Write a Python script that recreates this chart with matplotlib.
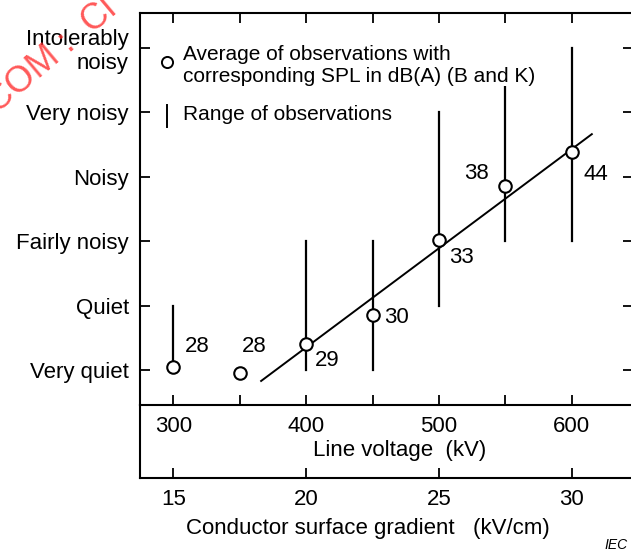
import matplotlib
matplotlib.use('Agg')
import matplotlib.pyplot as plt

plt.rcParams['font.family'] = ['Liberation Sans', 'DejaVu Sans']

voltage = [300, 350, 400, 450, 500, 550, 600]
level = [1.05, 0.95, 1.40, 1.85, 3.02, 3.86, 4.39]
spl = ['28', '28', '29', '30', '33', '38', '44']
lab_x = [318, 361, 416, 468, 517, 528, 618]
lab_y = [1.37, 1.37, 1.14, 1.81, 2.74, 4.05, 4.04]
range_lo = [1.05, None, 1.0, 1.0, 2.0, 3.0, 3.0]
range_hi = [2.0, None, 3.0, 3.0, 5.0, 6.0, 6.0]
fit_x = [366, 615]
fit_y = [0.83, 4.66]

levels = [1, 2, 3, 4, 5, 6]
level_names = ['Very quiet', 'Quiet', 'Fairly noisy', 'Noisy', 'Very noisy', 'Intolerably\nnoisy']
volt_ticks = [300, 400, 500, 600]
volt_minor = [350, 450, 550]
grad_ticks = [15, 20, 25, 30]

fs = 16
W, H = 631, 552
fig = plt.figure(figsize=(6.31, 5.52), dpi=100)
ax2 = fig.add_axes([140/W, 1 - 478/H, 493/W, 73/H])
ax = fig.add_axes([140/W, 1 - 405/H, 493/W, 392/H])
ax2.patch.set_visible(False)
ax.patch.set_visible(False)

x0, x1 = 274.8, 646.0
ax.set_xlim(x0, x1)
ax.set_ylim(0.457, 6.54)
ax2.set_xlim(x0 / 20, x1 / 20)
ax2.set_ylim(0, 1)

for a in (ax, ax2):
    for s in a.spines.values():
        s.set_linewidth(1.5)

# range bars
for v, lo, hi in zip(voltage, range_lo, range_hi):
    if lo is None:
        continue
    ax.plot([v, v], [lo, hi], color='black', lw=1.6, zorder=2)

ax.plot(fit_x, fit_y, color='black', lw=1.4, zorder=2)
ax.plot(voltage, level, 'o', ms=9, mfc='white', mec='black', mew=1.5, zorder=4)

for x, y, t in zip(lab_x, lab_y, spl):
    ax.text(x, y, t, fontsize=fs, ha='center', va='center', zorder=5)

# legend
def fx(px):
    return (px - 140) / 493

def fy(py):
    return (405 - py) / 392

ax.plot([fx(167)], [fy(62)], 'o', ms=8, mfc='white', mec='black', mew=1.4,
        transform=ax.transAxes, zorder=5)
ax.plot([fx(167), fx(167)], [fy(105), fy(127)], color='black', lw=1.4,
        transform=ax.transAxes, zorder=5)
ax.text(fx(183), fy(65), 'Average of observations with\ncorresponding SPL in dB(A) (B and K)',
        transform=ax.transAxes, fontsize=15, ha='left', va='center', linespacing=1.2,
        bbox=dict(facecolor='white', edgecolor='none', pad=0), zorder=6)
ax.text(fx(183), fy(115), 'Range of observations', transform=ax.transAxes,
        fontsize=15, ha='left', va='center',
        bbox=dict(facecolor='white', edgecolor='none', pad=0), zorder=6)

ax.set_yticks(levels)
ax.set_yticklabels(level_names, fontsize=fs, linespacing=1.15)
ax.set_xticks(volt_ticks)
ax.set_xticks(volt_minor, minor=True)
ax.set_xticklabels([str(v) for v in volt_ticks], fontsize=fs)
ax.tick_params(which='both', direction='in', length=7, width=1.3,
               top=True, right=True, left=True, bottom=True)
ax.tick_params(axis='y', pad=8)
ax.tick_params(axis='x', pad=8)
ax.set_xlabel('Line voltage  (kV)', fontsize=fs)
ax.xaxis.set_label_coords(fx(400), fy(440))

ax2.set_yticks([])
ax2.spines['top'].set_visible(False)
ax2.set_xticks(grad_ticks)
ax2.set_xticklabels([str(g) for g in grad_ticks], fontsize=fs)
ax2.tick_params(axis='x', direction='in', length=7, width=1.3, pad=8)
ax2.set_xlabel('Conductor surface gradient   (kV/cm)', fontsize=fs)
ax2.xaxis.set_label_coords((368 - 140) / 493, -0.55)

fig.text(604/W, 1 - 545/H, 'IEC', fontsize=10, style='italic', ha='left', va='center')
fig.text(-34/W, 1 - 140/H, 'M.COM :  Cl', fontsize=26, color='#ff3030', alpha=0.8,
         rotation=40, rotation_mode='anchor', ha='left', va='baseline', zorder=0)

fig.savefig('out.png', dpi=100)
